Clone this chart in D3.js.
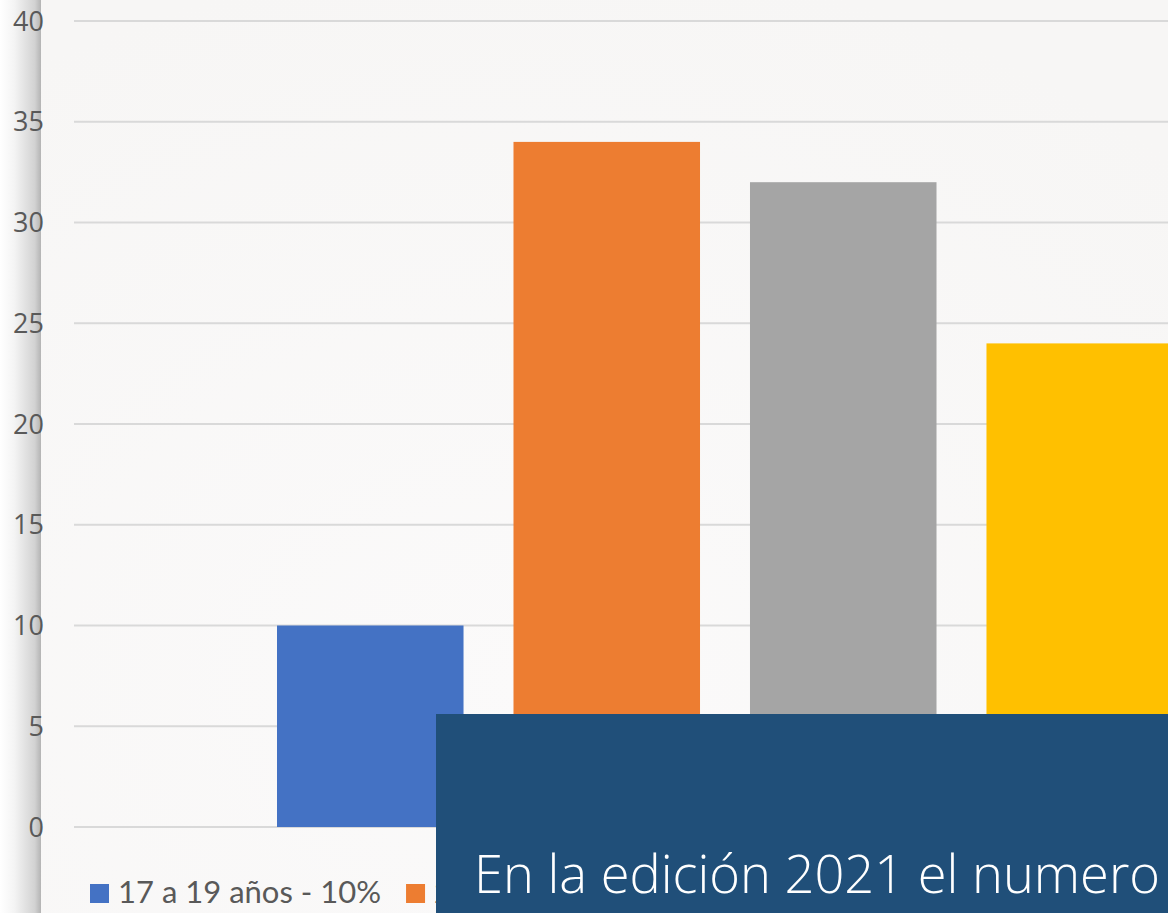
<!DOCTYPE html>
<html><head><meta charset="utf-8">
<script src="https://cdn.jsdelivr.net/npm/d3@7"></script>
<style>html,body{margin:0;padding:0;overflow:hidden;background:#fff}</style>
</head><body>
<svg id="c" width="1168" height="913"></svg>
<script>
const series = ["17 a 19 años - 10%", "20 a 22 años - 34%", "23 a 25 años - 32%", "Más de 25 años - 24%"];
const values = [10, 34, 32, 24];
const colors = ["#4472c4", "#ed7d31", "#a5a5a5", "#ffc000"];
const yTicks = [0, 5, 10, 15, 20, 25, 30, 35, 40];
const overlayText = "En la edición 2021 el numero";

const svg = d3.select("#c");
const defs = svg.append("defs");
const lg = defs.append("linearGradient").attr("id","edge").attr("x1","0").attr("x2","1").attr("y1","0").attr("y2","0");
lg.append("stop").attr("offset","0").attr("stop-color","#ffffff");
lg.append("stop").attr("offset","0.35").attr("stop-color","#f4f4f4");
lg.append("stop").attr("offset","0.85").attr("stop-color","#d2d2d2");
lg.append("stop").attr("offset","1").attr("stop-color","#b4b4b4");
const rg = defs.append("radialGradient").attr("id","bg").attr("cx","0.45").attr("cy","0.75").attr("r","0.8");
rg.append("stop").attr("offset","0").attr("stop-color","#fbfafa");
rg.append("stop").attr("offset","1").attr("stop-color","#f7f6f5");
defs.append("clipPath").attr("id","legclip").append("rect").attr("x",0).attr("y",0).attr("width",436).attr("height",913);

svg.append("rect").attr("x",0).attr("y",0).attr("width",1168).attr("height",913).attr("fill","url(#bg)");
svg.append("rect").attr("x",0).attr("y",0).attr("width",41).attr("height",913).attr("fill","url(#edge)");

const y = d3.scaleLinear().domain([0,40]).range([827,21]);
const x = d3.scaleBand().domain(series).range([277,1173]).paddingInner(0.2113).paddingOuter(0);

// gridlines
svg.append("g").selectAll("line").data(yTicks).join("line")
  .attr("x1",74).attr("x2",1168)
  .attr("y1",d=>y(d)).attr("y2",d=>y(d))
  .attr("stroke","#d9d9d9").attr("stroke-width",2);

// y labels
svg.append("g").selectAll("text").data(yTicks).join("text")
  .attr("x",44).attr("y",d=>y(d)).attr("dy","0.36em")
  .attr("text-anchor","end")
  .attr("font-family","'Open Sans', Lato, sans-serif").attr("font-size",27)
  .attr("fill","#595959").text(d=>d);

// bars
svg.append("g").selectAll("rect").data(series).join("rect")
  .attr("x",d=>x(d)).attr("width",x.bandwidth())
  .attr("y",(d,i)=>y(values[i])).attr("height",(d,i)=>y(0)-y(values[i]))
  .attr("fill",(d,i)=>colors[i]);

// legend (clipped by the overlay box, as in the original)
const leg = svg.append("g").attr("clip-path","url(#legclip)");
let lx = 90;
series.forEach((s,i)=>{
  if (lx >= 436) return;
  leg.append("rect").attr("x",lx).attr("y",884).attr("width",19).attr("height",19).attr("fill",colors[i]);
  const t = leg.append("text").attr("x",lx+28).attr("y",903)
    .attr("font-family","Lato, 'Open Sans', sans-serif").attr("font-size",31)
    .attr("fill","#595959").text(s);
  lx += 28 + t.node().getComputedTextLength() + 25;
});

// overlay box
svg.append("rect").attr("x",436).attr("y",714).attr("width",740).attr("height",210).attr("fill","#204f79");
svg.append("text").attr("x",474).attr("y",893)
  .attr("font-family","'Open Sans', Lato, sans-serif").attr("font-weight",300).attr("font-size",54)
  .attr("textLength",686).attr("lengthAdjust","spacingAndGlyphs")
  .attr("fill","#ffffff").text(overlayText);
</script>
</body></html>
